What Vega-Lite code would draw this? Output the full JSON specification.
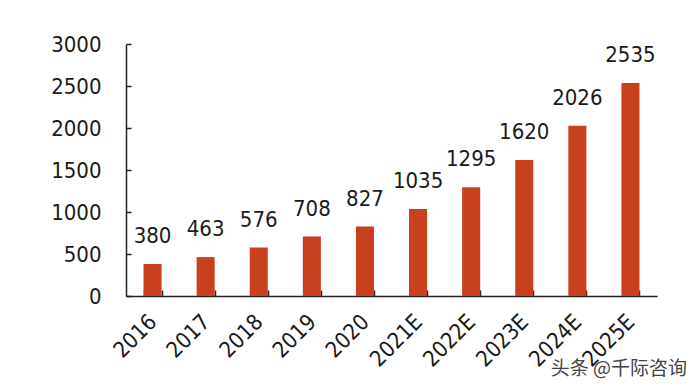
{
  "$schema": "https://vega.github.io/schema/vega-lite/v6.json",
  "width": 531,
  "height": 252,
  "autosize": "none",
  "padding": {"left": 126, "top": 44, "right": 41, "bottom": 90},
  "background": "white",
  "config": {"view": {"stroke": null}, "font": "DejaVu Sans Condensed"},
  "title": {
    "text": "头条 @千际咨询",
    "orient": "bottom",
    "anchor": "end",
    "font": "Noto Sans CJK SC",
    "fontSize": 19,
    "fontWeight": "normal",
    "color": "#444444",
    "offset": -10,
    "dx": 30
  },
  "data": {
    "values": [
      {"year": "2016", "value": 380},
      {"year": "2017", "value": 463},
      {"year": "2018", "value": 576},
      {"year": "2019", "value": 708},
      {"year": "2020", "value": 827},
      {"year": "2021E", "value": 1035},
      {"year": "2022E", "value": 1295},
      {"year": "2023E", "value": 1620},
      {"year": "2024E", "value": 2026},
      {"year": "2025E", "value": 2535}
    ]
  },
  "encoding": {
    "x": {
      "field": "year",
      "type": "nominal",
      "sort": null,
      "scale": {"paddingInner": 0.66, "paddingOuter": 0.33},
      "axis": {
        "title": null,
        "labelAngle": -45,
        "labelAlign": "right",
        "labelBaseline": "middle",
        "labelFontSize": 22,
        "labelColor": "#1a1a1a",
        "labelPadding": 28,
        "tickBand": "extent",
        "tickSize": -6,
        "tickColor": "#222",
        "domainColor": "#222",
        "domainWidth": 1.5,
        "tickWidth": 1.5,
        "grid": false
      }
    },
    "y": {
      "field": "value",
      "type": "quantitative",
      "scale": {"domain": [0, 3000], "nice": false},
      "axis": {
        "title": null,
        "values": [0, 500, 1000, 1500, 2000, 2500, 3000],
        "format": "d",
        "labelFontSize": 22,
        "labelColor": "#1a1a1a",
        "labelPadding": 30,
        "tickSize": -5,
        "tickColor": "#222",
        "tickWidth": 1.5,
        "domainColor": "#222",
        "domainWidth": 1.5,
        "grid": false
      }
    }
  },
  "layer": [
    {"mark": {"type": "bar", "color": "#C8411E"}},
    {
      "mark": {"type": "text", "baseline": "alphabetic", "dy": -21, "fontSize": 22, "color": "#1a1a1a"},
      "encoding": {"text": {"field": "value", "type": "quantitative", "format": "d"}}
    }
  ]
}
